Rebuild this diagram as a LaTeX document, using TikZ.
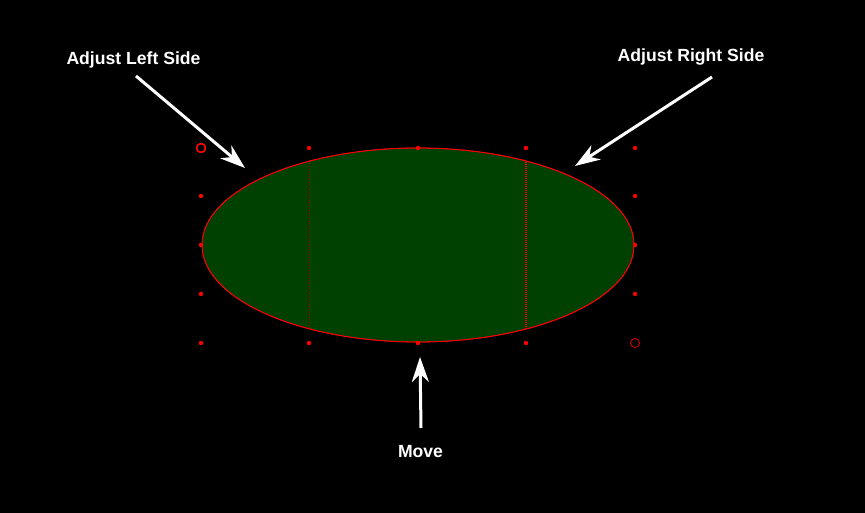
\documentclass[tikz,border=0pt]{standalone}
\usepackage{fontspec}
\setmainfont{Liberation Sans}
\usepackage{tikz}
\usetikzlibrary{arrows.meta}
\definecolor{shapegreen}{RGB}{0,64,0}
\def\handle(#1,#2){\fill[red] (#1,#2) circle (2.2);}
\tikzset{
	hint/.style={text=white, inner sep=0pt, anchor=base, font=\bfseries\fontsize{17.6}{20}\selectfont},
	pointer/.style={draw=white, line width=3pt, -{Stealth[length=25pt,width=17pt,inset=8pt]}},
}

\begin{document}
\begin{tikzpicture}[x=1pt, y=-1pt]
			%%%%% START %%%%%
			
			\fill[black] (0, 0) rectangle (865, 513);
			
			\draw[red, line width=0.8pt, fill=shapegreen] (418, 245) ellipse [x radius=216, y radius=97];
			\begin{scope}
				\clip (418, 245) ellipse [x radius=216, y radius=97];
				\draw[red!70!black, line width=0.6pt, dotted] (309, 140) -- (309, 350);
				\draw[red, line width=1.1pt, dash pattern=on 1.2pt off 0.8pt] (526, 140) -- (526, 350);
			\end{scope}
			\draw[red, line width=0.8pt] (418, 245) ellipse [x radius=216, y radius=97];
			
			\foreach \hx/\hy in {309/148, 418/148, 526/148, 635/148, 201/196, 635/196, 201/245, 635/245, 201/294, 635/294, 201/343, 309/343, 418/343, 526/343}
				\handle(\hx,\hy)
			\draw[red, line width=0.7pt] (201, 148) circle (4.5);
			\draw[red, line width=0.7pt] (635, 343) circle (4.5);
			
			\node[hint] (leftside) at (133.5, 65) {Adjust Left Side};
			\node[hint] (rightside) at (691, 62) {Adjust Right Side};
			\node[hint] (move) at (420.5, 457) {Move};
			
			\coordinate (lefttail) at (136, 76);
			\coordinate (lefthead) at (245, 168);
			\coordinate (righttail) at (712, 77);
			\coordinate (righthead) at (575, 166);
			\coordinate (movetail) at (421, 428);
			\coordinate (movehead) at (420, 357);
			
			\draw[pointer] (lefttail) -- (lefthead);
			\draw[pointer] (righttail) -- (righthead);
			\draw[pointer] (movetail) -- (movehead);
			
			%%%%% END %%%%%
\end{tikzpicture}
\end{document}
